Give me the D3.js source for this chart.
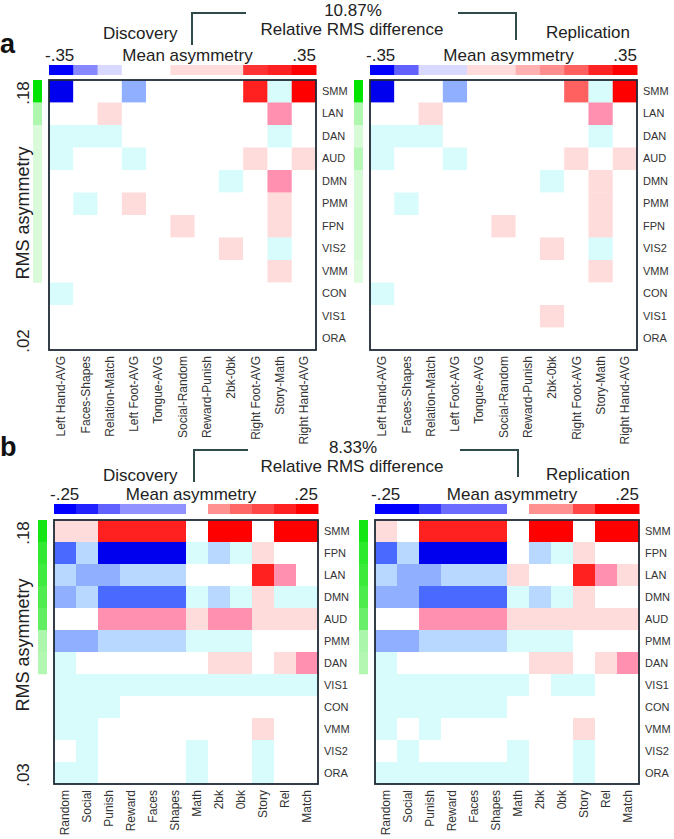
<!DOCTYPE html>
<html>
<head>
<script src="https://d3js.org/d3.v7.min.js"></script>
<style>
body { margin: 0; background: #fff; }
text { font-family: "Liberation Sans", Arial, sans-serif; }
</style>
</head>
<body>
<script>
// ---- data ----
var aCols = ["Left Hand-AVG", "Faces-Shapes", "Relation-Match", "Left Foot-AVG", "Tongue-AVG",
  "Social-Random", "Reward-Punish", "2bk-0bk", "Right Foot-AVG", "Story-Math", "Right Hand-AVG"];
var aRows = ["SMM", "LAN", "DAN", "AUD", "DMN", "PMM", "FPN", "VIS2", "VMM", "CON", "VIS1", "ORA"];
var bCols = ["Random", "Social", "Punish", "Reward", "Faces", "Shapes", "Math", "2bk", "0bk", "Story", "Rel", "Match"];
var bRows = ["SMM", "FPN", "LAN", "DMN", "AUD", "PMM", "DAN", "VIS1", "CON", "VMM", "VIS2", "ORA"];

// mean asymmetry, panel a (scale +-.35)
var aDisc = [
  [-0.32, 0, 0, -0.16, 0, 0, 0, 0, 0.26, -0.03, 0.33],
  [0, 0, 0.04, 0, 0, 0, 0, 0, 0, 0.10, 0],
  [-0.03, -0.03, -0.03, 0, 0, 0, 0, 0, 0, -0.03, 0],
  [-0.03, 0, 0, -0.03, 0, 0, 0, 0, 0.04, 0, 0.04],
  [0, 0, 0, 0, 0, 0, 0, -0.03, 0, 0.11, 0],
  [0, -0.03, 0, 0.04, 0, 0, 0, 0, 0, 0.04, 0],
  [0, 0, 0, 0, 0, 0.04, 0, 0, 0, 0.04, 0],
  [0, 0, 0, 0, 0, 0, 0, 0.04, 0, -0.03, 0],
  [0, 0, 0, 0, 0, 0, 0, 0, 0, 0.04, 0],
  [-0.03, 0, 0, 0, 0, 0, 0, 0, 0, 0, 0],
  [0, 0, 0, 0, 0, 0, 0, 0, 0, 0, 0],
  [0, 0, 0, 0, 0, 0, 0, 0, 0, 0, 0]
];
var aRep = [
  [-0.32, 0, 0, -0.16, 0, 0, 0, 0, 0.18, -0.03, 0.33],
  [0, 0, 0.04, 0, 0, 0, 0, 0, 0, 0.10, 0],
  [-0.03, -0.03, -0.03, 0, 0, 0, 0, 0, 0, -0.03, 0],
  [-0.03, 0, 0, -0.03, 0, 0, 0, 0, 0.04, 0, 0.04],
  [0, 0, 0, 0, 0, 0, 0, -0.03, 0, 0.04, 0],
  [0, -0.03, 0, 0, 0, 0, 0, 0, 0, 0.04, 0],
  [0, 0, 0, 0, 0, 0.04, 0, 0, 0, 0.04, 0],
  [0, 0, 0, 0, 0, 0, 0, 0.04, 0, -0.03, 0],
  [0, 0, 0, 0, 0, 0, 0, 0, 0, 0.04, 0],
  [-0.03, 0, 0, 0, 0, 0, 0, 0, 0, 0, 0],
  [0, 0, 0, 0, 0, 0, 0, 0.04, 0, 0, 0],
  [0, 0, 0, 0, 0, 0, 0, 0, 0, 0, 0]
];
// mean asymmetry, panel b (scale +-.25)
var bDisc = [
  [0.03, 0.03, 0.19, 0.19, 0.19, 0.19, 0, 0.24, 0.24, 0, 0.24, 0.24],
  [-0.17, -0.07, -0.23, -0.23, -0.23, -0.23, -0.025, -0.07, -0.025, 0.03, 0, 0],
  [-0.07, -0.12, -0.12, -0.07, -0.07, -0.07, 0, 0, 0, 0.19, 0.07, 0],
  [-0.12, -0.07, -0.17, -0.17, -0.17, -0.17, -0.025, -0.07, -0.025, 0.03, -0.025, -0.025],
  [0, 0, 0.07, 0.07, 0.07, 0.07, 0.03, 0.07, 0.07, 0.03, 0.03, 0.03],
  [-0.12, -0.12, -0.07, -0.07, -0.07, -0.07, -0.025, -0.025, -0.025, 0, 0, 0],
  [-0.025, 0, 0, 0, 0, 0, 0, 0.03, 0.03, 0, 0.03, 0.07],
  [-0.025, -0.025, -0.025, -0.025, -0.025, -0.025, -0.025, -0.025, -0.025, -0.025, -0.025, -0.025],
  [-0.025, -0.025, -0.025, 0, 0, 0, 0, 0, 0, 0, 0, 0],
  [-0.025, -0.025, 0, 0, 0, 0, 0, 0, 0, 0.03, 0, 0],
  [0, -0.025, 0, 0, 0, 0, -0.025, 0, 0, -0.025, 0, 0],
  [-0.025, -0.025, 0, 0, 0, 0, -0.025, 0, 0, -0.025, 0, 0]
];
var bRep = [
  [0.03, 0, 0.19, 0.19, 0.19, 0.19, 0, 0.24, 0.24, 0, 0.24, 0.24],
  [-0.17, -0.07, -0.23, -0.23, -0.23, -0.23, 0, -0.07, -0.025, 0.03, 0, 0],
  [-0.07, -0.12, -0.12, -0.07, -0.07, -0.07, 0.03, 0, 0, 0.19, 0.07, 0.03],
  [-0.12, -0.12, -0.17, -0.17, -0.17, -0.17, -0.025, -0.07, -0.025, 0.03, 0, 0],
  [0, 0, 0.07, 0.07, 0.07, 0.07, 0.03, 0.03, 0.03, 0.03, 0.03, 0.03],
  [-0.12, -0.12, -0.07, -0.07, -0.07, -0.07, -0.025, -0.025, -0.025, 0, 0, 0],
  [-0.025, 0, 0, 0, 0, 0, 0, 0.03, 0.03, 0, 0.03, 0.07],
  [-0.025, -0.025, -0.025, -0.025, -0.025, -0.025, -0.025, 0, -0.025, -0.025, 0, 0],
  [-0.025, -0.025, -0.025, -0.025, -0.025, -0.025, 0, 0, 0, 0, 0, 0],
  [-0.025, 0, -0.025, 0, 0, 0, 0, 0, 0, 0.03, 0, 0],
  [0, -0.025, 0, 0, 0, 0, -0.025, 0, 0, -0.025, 0, 0],
  [-0.025, -0.025, -0.025, -0.025, -0.025, -0.025, -0.025, 0, 0, -0.025, 0, 0]
];

// RMS asymmetry per row (null = not shown)
var aRmsDisc = [0.18, 0.07, 0.044, 0.044, 0.044, 0.044, 0.044, 0.044, 0.044, null, null, null];
var aRmsRep = [0.18, 0.07, 0.045, 0.065, 0.045, 0.045, 0.045, 0.045, 0.04, null, null, null];
var bRmsDisc = [0.168, 0.152, 0.143, 0.133, 0.123, 0.078, 0.075, null, null, null, null, null];
var bRmsRep = [0.168, 0.155, 0.145, 0.135, 0.118, 0.08, 0.075, null, null, null, null, null];

// colorbar segments (normalised -1..1)
var aBarDisc = [-1, -0.47, -0.15, 0, 0, 0.14, 0.14, 0.14, 0.8, 0.87, 1];
var aBarRep = [-1, -0.62, -0.15, -0.15, 0.14, 0.14, 0.31, 0.44, 0.62, 0.86, 1];
var bBarDisc = [-1, -0.87, -0.62, -0.43, -0.43, -0.43, 0, 0.43, 0.6, 0.72, 0.87, 1];
var bBarRep = [-1, -1, -0.78, -0.58, -0.58, -0.58, 0, 0.43, 0.43, 0.72, 1, 1];

var aRange = 0.35, bRange = 0.25;
var aDiff = "10.87%", bDiff = "8.33%";

// ---- scales ----
var cellColor = d3.scaleThreshold()
  .domain([-0.8, -0.57, -0.38, -0.18, -0.05, 0.05, 0.2, 0.4, 0.6, 0.85])
  .range(["#0000ee", "#4a6aff", "#90b0ff", "#b8d8ff", "#d8fcfc", "#ffffff",
          "#ffdcdc", "#ff90b0", "#ff6060", "#ff2020", "#ff0000"]);
var barColor = d3.scaleLinear().domain([-1, 0, 1]).range(["#0000ff", "#ffffff", "#ff0000"]);

var svg = d3.select("body").append("svg")
  .attr("width", 674)
  .attr("height", 839);
svg.append("rect").attr("width", 674).attr("height", 839).attr("fill", "#fff");

function heatmap(cfg) {
  var g = svg.append("g");
  var x = d3.scaleBand().domain(cfg.cols).range([cfg.x0, cfg.x0 + cfg.w]);
  var y = d3.scaleBand().domain(cfg.rows).range([cfg.y0, cfg.y0 + cfg.h]);
  var green = d3.scaleLinear().domain(cfg.rmsDomain).range(["#ffffff", "#00e400"]).clamp(true);

  // colorbar
  var cb = d3.scaleBand().domain(d3.range(cfg.bar.length)).range([cfg.x0, cfg.x0 + cfg.w]);
  g.selectAll(".cb").data(cfg.bar).enter().append("rect")
    .attr("x", function(d, i) { return cb(i); })
    .attr("y", cfg.cbY)
    .attr("width", cb.bandwidth() + 0.5)
    .attr("height", 10)
    .attr("fill", function(d) { return barColor(d); });

  // cells
  cfg.values.forEach(function(row, ri) {
    g.selectAll(null).data(row).enter().append("rect")
      .attr("x", function(d, ci) { return x(cfg.cols[ci]); })
      .attr("y", y(cfg.rows[ri]))
      .attr("width", x.bandwidth() + 0.3)
      .attr("height", y.bandwidth() + 0.3)
      .attr("fill", function(d) { return cellColor(d / cfg.range); });
  });

  g.append("rect")
    .attr("x", cfg.x0).attr("y", cfg.y0)
    .attr("width", cfg.w).attr("height", cfg.h)
    .attr("fill", "none")
    .attr("stroke", "#1e2a36")
    .attr("stroke-width", 1.8);

  // rms bar
  var rmsData = cfg.rms.map(function(v, i) { return { row: cfg.rows[i], v: v }; })
    .filter(function(d) { return d.v != null; });
  g.selectAll(".rms").data(rmsData).enter().append("rect")
    .attr("x", cfg.x0 - 16)
    .attr("y", function(d) { return y(d.row); })
    .attr("width", 9)
    .attr("height", y.bandwidth() + 0.3)
    .attr("fill", function(d) { return green(d.v); });

  // row labels
  g.append("g")
    .attr("transform", "translate(" + (cfg.x0 + cfg.w) + ",0)")
    .call(d3.axisRight(y).tickSize(0).tickPadding(6))
    .call(function(s) { s.select(".domain").remove(); })
    .selectAll("text")
    .attr("font-family", "Liberation Sans, Arial, sans-serif")
    .attr("font-size", 11)
    .attr("fill", "#333");

  // column labels
  g.append("g")
    .attr("transform", "translate(0," + (cfg.y0 + cfg.h) + ")")
    .call(d3.axisBottom(x).tickSize(0))
    .call(function(s) { s.select(".domain").remove(); })
    .selectAll("text")
    .attr("font-family", "Liberation Sans, Arial, sans-serif")
    .attr("font-size", 12)
    .attr("fill", "#333")
    .attr("transform", "rotate(-90)")
    .attr("x", -6)
    .attr("y", 0)
    .attr("dy", "0.35em")
    .attr("text-anchor", "end");

  // titles over the colorbar
  g.append("text").attr("x", cfg.titleMid).attr("y", cfg.cbY - 4)
    .attr("text-anchor", "middle").attr("font-size", 17).attr("fill", "#222")
    .text("Mean asymmetry");
  g.append("text").attr("x", cfg.x0 - 4).attr("y", cfg.cbY - 4)
    .attr("font-size", 17).attr("fill", "#222")
    .text("-" + String(cfg.range).replace("0.", "."));
  g.append("text").attr("x", cfg.x0 + cfg.w).attr("y", cfg.cbY - 4)
    .attr("text-anchor", "end").attr("font-size", 17).attr("fill", "#222")
    .text(String(cfg.range).replace("0.", "."));
  g.append("text").attr("x", cfg.nameX).attr("y", cfg.nameY)
    .attr("text-anchor", cfg.nameAnchor).attr("font-size", 17).attr("fill", "#222")
    .text(cfg.name);
}

function panel(p) {
  heatmap({ name: "Discovery", nameX: 103, nameAnchor: "start", nameY: p.nameY,
    x0: p.dx, y0: p.y0, w: p.w, h: p.h, cbY: p.cbY, titleMid: p.dx + p.w / 2 + 5,
    rows: p.rows, cols: p.cols, values: p.disc, range: p.range, rms: p.rmsDisc,
    rmsDomain: p.rmsDomain, bar: p.barDisc });
  heatmap({ name: "Replication", nameX: 630, nameAnchor: "end", nameY: p.nameY - 1,
    x0: p.rx, y0: p.y0, w: p.w, h: p.h, cbY: p.cbY, titleMid: p.rx + p.w / 2 + 5,
    rows: p.rows, cols: p.cols, values: p.rep, range: p.range, rms: p.rmsRep,
    rmsDomain: p.rmsDomain, bar: p.barRep });

  svg.append("text").attr("x", 0).attr("y", p.letterY)
    .attr("font-size", 27).attr("font-weight", "bold").attr("fill", "#111")
    .text(p.letter);
  svg.append("text").attr("x", 353).attr("y", p.diffY)
    .attr("text-anchor", "middle").attr("font-size", 17).attr("fill", "#222")
    .text(p.diff);
  svg.append("text").attr("x", 352).attr("y", p.diffY + 19)
    .attr("text-anchor", "middle").attr("font-size", 17).attr("fill", "#222")
    .text("Relative RMS difference");
  svg.append("path")
    .attr("d", "M" + p.bl + "," + (p.diffY + 29) + "V" + (p.diffY - 3) + "H" + (p.bl + 54) +
      "M" + p.br + "," + (p.diffY - 3) + "H" + (p.br + 58) + "V" + (p.diffY + 24))
    .attr("fill", "none").attr("stroke", "#2e4a4a").attr("stroke-width", 2);

  // RMS axis
  [[p.y0 + 13, p.rmsTop], [p.y0 + p.h - 9, p.rmsBottom]].forEach(function(t) {
    svg.append("text")
      .attr("transform", "translate(29," + t[0] + ") rotate(-90)")
      .attr("text-anchor", "middle").attr("font-size", 17).attr("fill", "#222")
      .text(t[1]);
  });
  svg.append("text")
    .attr("transform", "translate(29," + p.rmsMid + ") rotate(-90)")
    .attr("text-anchor", "middle").attr("font-size", 18).attr("fill", "#222")
    .text("RMS asymmetry");
}

panel({ letter: "a", letterY: 53, diff: aDiff, diffY: 16, bl: 192, br: 458, nameY: 39,
  dx: 49, rx: 370, y0: 80, w: 267, h: 270, cbY: 65,
  rows: aRows, cols: aCols, disc: aDisc, rep: aRep, range: aRange,
  rmsDisc: aRmsDisc, rmsRep: aRmsRep, rmsDomain: [0.02, 0.18],
  barDisc: aBarDisc, barRep: aBarRep, rmsTop: ".18", rmsBottom: ".02", rmsMid: 213 });

panel({ letter: "b", letterY: 456, diff: bDiff, diffY: 453, bl: 194, br: 460, nameY: 481,
  dx: 54, rx: 375, y0: 520, w: 264, h: 264, cbY: 504,
  rows: bRows, cols: bCols, disc: bDisc, rep: bRep, range: bRange,
  rmsDisc: bRmsDisc, rmsRep: bRmsRep, rmsDomain: [0.03, 0.18],
  barDisc: bBarDisc, barRep: bBarRep, rmsTop: ".18", rmsBottom: ".03", rmsMid: 645 });
</script>
</body>
</html>
